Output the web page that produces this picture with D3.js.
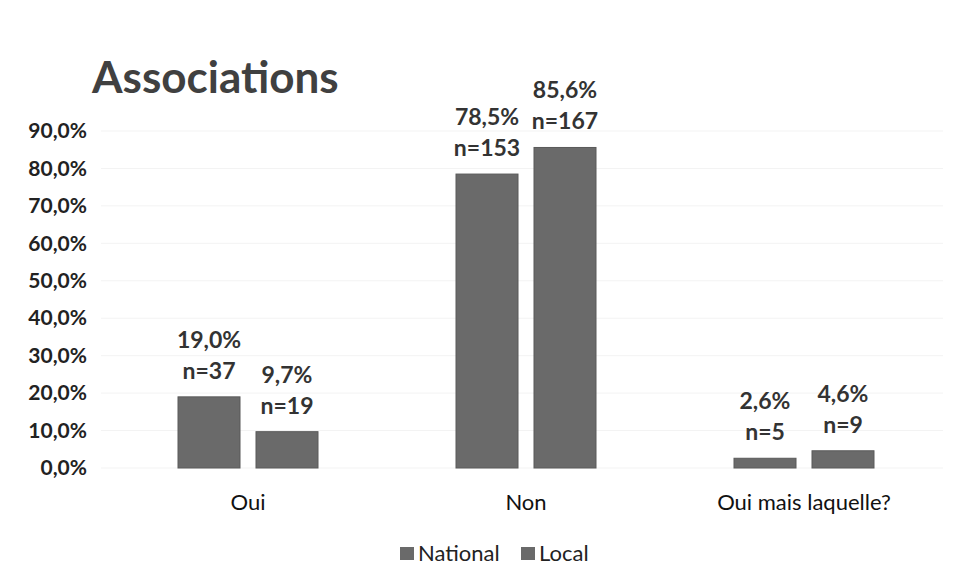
<!DOCTYPE html>
<html>
<head>
<meta charset="utf-8">
<script src="https://cdn.jsdelivr.net/npm/d3@7"></script>
<style>
  body { margin: 0; background: #fff; }
  text { font-family: Lato, "Open Sans", sans-serif; }
</style>
</head>
<body>
<div id="chart"></div>
<script>
// Chart data
const categories = ["Oui", "Non", "Oui mais laquelle?"];
const series = ["National", "Local"];
const nationalPct = [19.0, 78.5, 2.6];
const localPct = [9.7, 85.6, 4.6];
const nationalN = [37, 153, 5];
const localN = [19, 167, 9];
const yTicks = [0, 10, 20, 30, 40, 50, 60, 70, 80, 90];

const width = 956;
const height = 565;
const margin = { top: 131, right: 13, bottom: 97, left: 109 };

const svg = d3.select("#chart")
    .append("svg")
    .attr("width", width)
    .attr("height", height);

// Scales
const yScale = d3.scaleLinear()
    .domain([0, 90])
    .range([height - margin.bottom, margin.top]);

const x0 = d3.scaleBand()
    .domain(categories)
    .range([margin.left, width - margin.right])
    .padding(0);

const groupWidth = 140;
const x1 = d3.scaleBand()
    .domain(series)
    .range([(x0.bandwidth() - groupWidth) / 2, (x0.bandwidth() + groupWidth) / 2])
    .paddingInner(0.205)
    .paddingOuter(0);

const fmt = v => v.toFixed(1).replace(".", ",") + "%";

// Faint gridlines
svg.append("g")
    .selectAll("line")
    .data(yTicks)
    .join("line")
    .attr("x1", margin.left - 8)
    .attr("x2", width - margin.right)
    .attr("y1", d => yScale(d))
    .attr("y2", d => yScale(d))
    .attr("stroke", "#f3f3f3")
    .attr("stroke-width", 1);

// Y axis labels
const yAxis = d3.axisLeft(yScale)
    .tickValues(yTicks)
    .tickFormat(d => fmt(d))
    .tickSize(0)
    .tickPadding(0);

const yG = svg.append("g")
    .attr("transform", `translate(87, 0)`)
    .call(yAxis);
yG.select(".domain").remove();
yG.selectAll("text")
    .attr("font-family", "Lato, sans-serif")
    .attr("font-size", "21px")
    .attr("font-weight", "bold")
    .attr("fill", "#222");

// Bars
const rows = categories.map((c, i) => ({
    cat: c,
    values: [
        { key: "National", pct: nationalPct[i], n: nationalN[i] },
        { key: "Local", pct: localPct[i], n: localN[i] }
    ]
}));

const groups = svg.append("g")
    .selectAll("g")
    .data(rows)
    .join("g")
    .attr("transform", d => `translate(${x0(d.cat)}, 0)`);

groups.selectAll("rect")
    .data(d => d.values)
    .join("rect")
    .attr("x", d => x1(d.key))
    .attr("y", d => yScale(d.pct))
    .attr("width", x1.bandwidth())
    .attr("height", d => yScale(0) - yScale(d.pct))
    .attr("fill", "#6a6a6a")
    .attr("stroke", "#5a5a5a")
    .attr("stroke-width", 1);

// Value labels (two lines)
groups.selectAll("text.pct")
    .data(d => d.values)
    .join("text")
    .attr("class", "pct")
    .attr("x", d => x1(d.key) + x1.bandwidth() / 2)
    .attr("y", d => yScale(d.pct) - 49)
    .attr("text-anchor", "middle")
    .attr("font-size", "23px")
    .attr("font-weight", "bold")
    .attr("fill", "#333")
    .text(d => fmt(d.pct));

groups.selectAll("text.n")
    .data(d => d.values)
    .join("text")
    .attr("class", "n")
    .attr("x", d => x1(d.key) + x1.bandwidth() / 2)
    .attr("y", d => yScale(d.pct) - 18)
    .attr("text-anchor", "middle")
    .attr("font-size", "23px")
    .attr("font-weight", "bold")
    .attr("fill", "#333")
    .text(d => "n=" + d.n);

// Category labels
svg.append("g")
    .selectAll("text")
    .data(categories)
    .join("text")
    .attr("x", d => x0(d) + x0.bandwidth() / 2)
    .attr("y", 510)
    .attr("text-anchor", "middle")
    .attr("font-size", "22px")
    .attr("fill", "#111")
    .text(d => d);

// Title
svg.append("text")
    .attr("x", 92)
    .attr("y", 93)
    .attr("font-size", "44px")
    .attr("font-weight", "bold")
    .attr("fill", "#404040")
    .text("Associations");

// Legend
const legendX = [400, 521];
const legend = svg.append("g")
    .selectAll("g")
    .data(series)
    .join("g")
    .attr("transform", (d, i) => `translate(${legendX[i]}, 553)`);

legend.append("rect")
    .attr("x", 0)
    .attr("y", -6)
    .attr("width", 14)
    .attr("height", 13)
    .attr("fill", "#6a6a6a");

legend.append("text")
    .attr("x", 18)
    .attr("y", 8)
    .attr("font-size", "22px")
    .attr("fill", "#222")
    .text(d => d);
</script>
</body>
</html>
